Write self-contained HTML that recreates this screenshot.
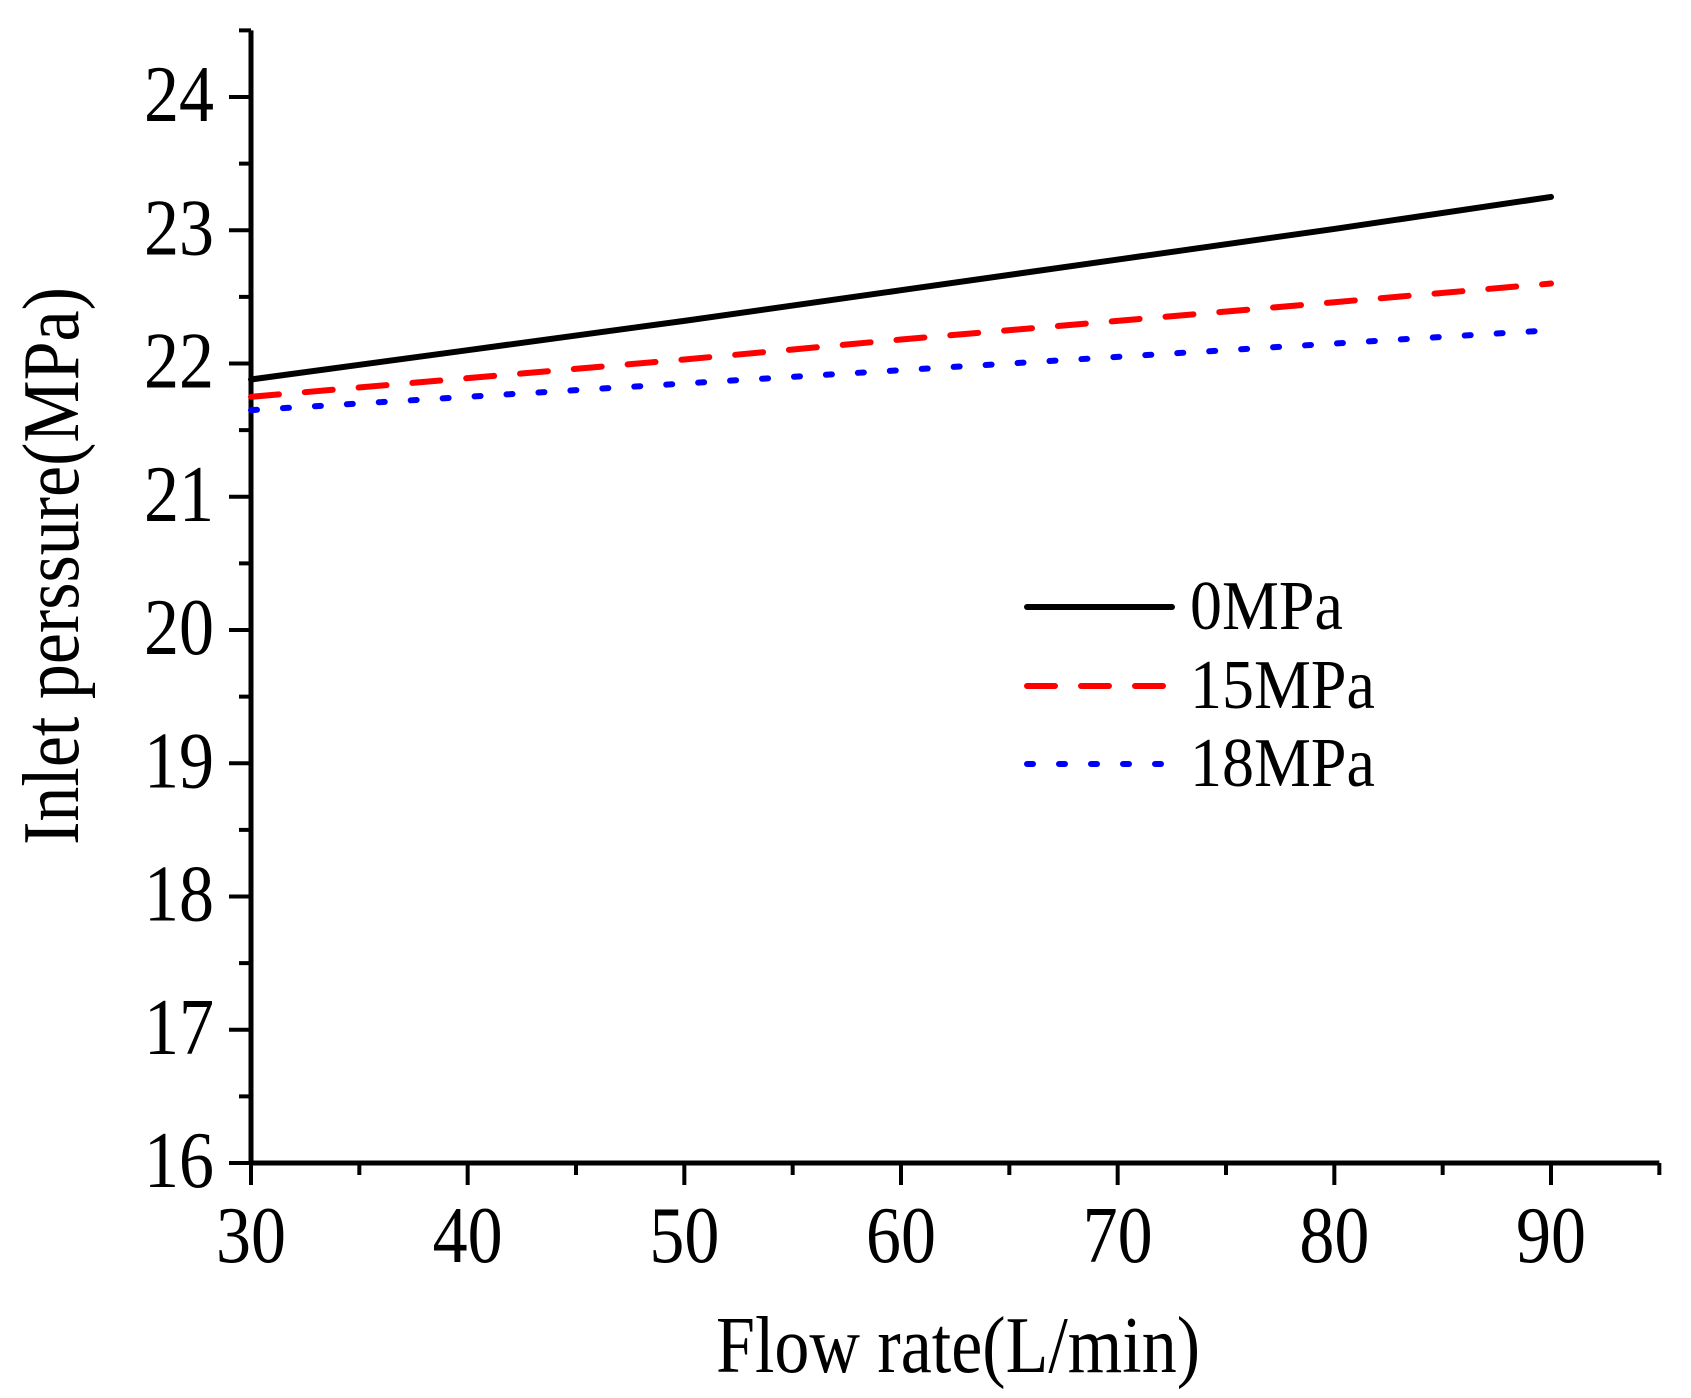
<!DOCTYPE html>
<html><head><meta charset="utf-8"><style>
html,body{margin:0;padding:0;background:#fff;}
svg{display:block;font-family:"Liberation Serif",serif;}
</style></head><body>
<svg id="chart" width="1691" height="1398" viewBox="0 0 1691 1398"></svg>
<script>
const categories=[30,40,50,60,70,80,90];
const series0=[21.88,22.1,22.32,22.55,22.78,23.01,23.25];
const series15=[21.75,21.89,22.03,22.18,22.32,22.46,22.6];
const series18=[21.65,21.75,21.85,21.95,22.05,22.15,22.25];
const seriesNames=["0MPa","15MPa","18MPa"];
const xTicks=[30,40,50,60,70,80,90];
const yTicks=[16,17,18,19,20,21,22,23,24];
const NS="http://www.w3.org/2000/svg";
const svg=document.getElementById('chart');
const X0=251,X1=1551,Y0=1163,Y1=97;
function xs(v){return X0+(v-30)/60*(X1-X0);}
function ys(v){return Y0-(v-16)/8*(Y0-Y1);}
function el(t,a,p){const e=document.createElementNS(NS,t);for(const k in a)e.setAttribute(k,a[k]);(p||svg).appendChild(e);return e;}
function txt(x,y,s,size,anchor,sy,rot){const e=el('text',{x:0,y:0,'text-anchor':anchor,'font-size':size,transform:'translate('+x+','+y+')'+(rot?' rotate(-90)':'')+' scale(1,'+sy+')'});e.textContent=s;return e;}
let a=el('line',{x1:X0,y1:ys(24.5),x2:X0,y2:Y0+2,stroke:'#000','stroke-width':5});


a=el('line',{x1:X0-2,y1:Y0,x2:xs(95),y2:Y0,stroke:'#000','stroke-width':5});


for(let v=30;v<=95;v+=5){const major=v%10===0;const t=el('line',{x1:xs(v),y1:Y0,x2:xs(v),y2:Y0+(major?22:12),stroke:'#000','stroke-width':4});

}
for(let v=16;v<=24.5;v+=0.5){const major=Number.isInteger(v);const t=el('line',{x1:X0,y1:ys(v),x2:X0-(major?22:12),y2:ys(v),stroke:'#000','stroke-width':4});

}
xTicks.forEach(v=>{const t=txt(xs(v),1262,String(v),70,'middle',1.15);

});
yTicks.forEach(v=>{const t=txt(214,ys(v)+24,String(v),70,'end',1.15);

});
let t=txt(958,1372,'Flow rate(L/min)',70,'middle',1.15);


t=txt(78,566,'Inlet perssure(MPa)',70,'middle',1.15,true);


const styles=[{stroke:'#000',dash:''},{stroke:'#ff0000',dash:'28 26'},{stroke:'#0000ff',dash:'6 26'}];
[series0,series15,series18].forEach((s,i)=>{
 const d=s.map((v,j)=>(j?'L':'M')+xs(categories[j])+','+ys(v)).join(' ');
 const p=el('path',{d:d,fill:'none',stroke:styles[i].stroke,'stroke-width':6,'stroke-dasharray':styles[i].dash,'stroke-linecap':'round'});
 
 
 const ly=[607,686,764][i];
 const l=el('line',{x1:1027,y1:ly,x2:1172,y2:ly,stroke:styles[i].stroke,'stroke-width':6,'stroke-dasharray':styles[i].dash,'stroke-linecap':'round'});
 
 
 const lt=txt(1190,ly+22,seriesNames[i],64,'start',1.1);
 
 
});
</script>
</body></html>
